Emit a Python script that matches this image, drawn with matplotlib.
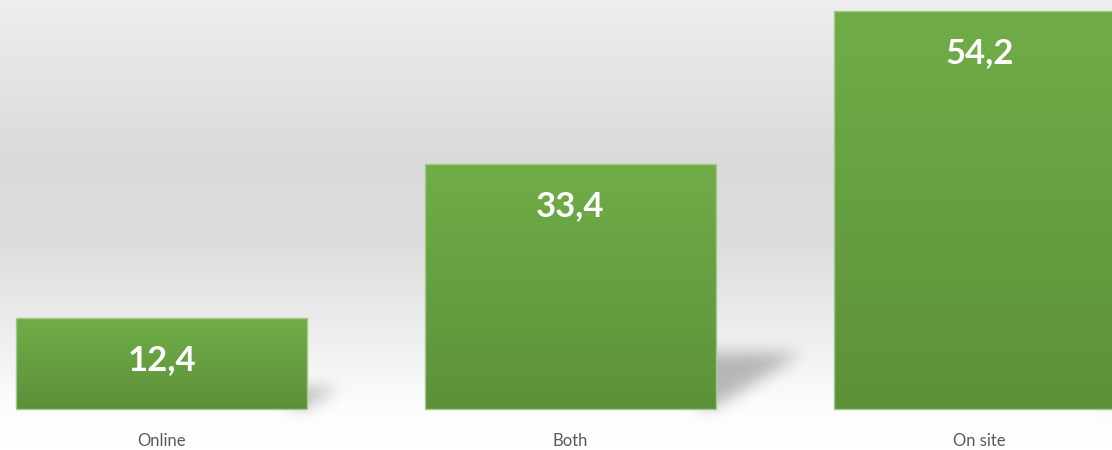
import numpy as np
import matplotlib
matplotlib.use("Agg")
import matplotlib.pyplot as plt
from matplotlib.path import Path

categories = ["Online", "Both", "On site"]
values = [12.4, 33.4, 54.2]

W, H, DPI = 1112, 450, 100
XLIM = (-0.395, 2.324)
YLIM = (-5.59, 55.72)
BAR_W = 0.712

plt.rcParams['font.family'] = ['Lato', 'DejaVu Sans']

def gauss_blur(img, sigma):
    r = int(3 * sigma)
    k = np.exp(-0.5 * (np.arange(-r, r + 1) / sigma) ** 2)
    k /= k.sum()
    img = np.apply_along_axis(lambda m: np.convolve(m, k, mode='same'), 0, img)
    img = np.apply_along_axis(lambda m: np.convolve(m, k, mode='same'), 1, img)
    return img

fig = plt.figure(figsize=(W / DPI, H / DPI), dpi=DPI)
ax = fig.add_axes([0, 0, 1, 1])
ax.set_xlim(*XLIM)
ax.set_ylim(*YLIM)
ax.axis('off')

# background gradient (top -> bottom)
fy = np.linspace(0, 1, H)
gray = np.interp(fy, [0.0, 0.08, 0.35, 0.55, 0.78, 0.9, 1.0],
                 [0.935, 0.915, 0.855, 0.87, 0.945, 0.99, 1.0])
bg = np.repeat(gray[:, None], 2, axis=1)
ax.imshow(np.dstack([bg, bg, bg]), extent=(*XLIM, *YLIM), origin='upper',
          aspect='auto', zorder=0, interpolation='bilinear')

# soft shadows to the right of each bar
px_per_x = W / (XLIM[1] - XLIM[0])
px_per_y = H / (YLIM[1] - YLIM[0])
xs = XLIM[0] + (np.arange(W) + 0.5) / W * (XLIM[1] - XLIM[0])
ys = YLIM[1] - (np.arange(H) + 0.5) / H * (YLIM[1] - YLIM[0])
gx, gy = np.meshgrid(xs, ys)
pts = np.column_stack([gx.ravel(), gy.ravel()])
mask = np.zeros(W * H)
for i, v in enumerate(values):
    r = i + BAR_W / 2
    top = 0.23 * v
    wsh = 0.35 * v * px_per_y / px_per_x
    poly = Path([(r - 0.05, 0.3), (r - 0.05, top), (r + wsh, top), (r, 0.3)])
    mask = np.maximum(mask, poly.contains_points(pts).astype(float))
mask = gauss_blur(mask.reshape(H, W), 8)
shadow = np.zeros((H, W, 4))
shadow[..., 3] = mask * 0.26
ax.imshow(shadow, extent=(*XLIM, *YLIM), origin='upper', aspect='auto',
          zorder=1, interpolation='bilinear')

# bars with vertical green gradient
x = np.arange(len(categories))
bars = ax.bar(x, values, width=BAR_W, facecolor='none', edgecolor='#a3c98a',
              linewidth=1.0, zorder=3)
top_c = np.array([112, 173, 71]) / 255
bot_c = np.array([92, 145, 58]) / 255
t = np.linspace(0, 1, 100)[:, None]
grad = (1 - t) * top_c + t * bot_c
grad = grad[:, None, :]
for b in bars:
    bx, by = b.get_x(), b.get_y()
    im = ax.imshow(grad, extent=(bx, bx + b.get_width(), by, by + b.get_height()),
                   origin='upper', aspect='auto', zorder=2, interpolation='bilinear')
    im.set_clip_path(b)

for xi, v, cat in zip(x, values, categories):
    ax.annotate(f"{v:.1f}".replace('.', ','), (xi, v), xytext=(0, -42 * 72 / DPI),
                textcoords='offset points', ha='center', va='center',
                fontsize=25, fontweight='bold', color='white', zorder=4)
    ax.annotate(cat, (xi, 0), xytext=(0, -32 * 72 / DPI), textcoords='offset points',
                ha='center', va='center', fontsize=12, color='#595959', zorder=4)

fig.savefig("out.png", dpi=DPI)
